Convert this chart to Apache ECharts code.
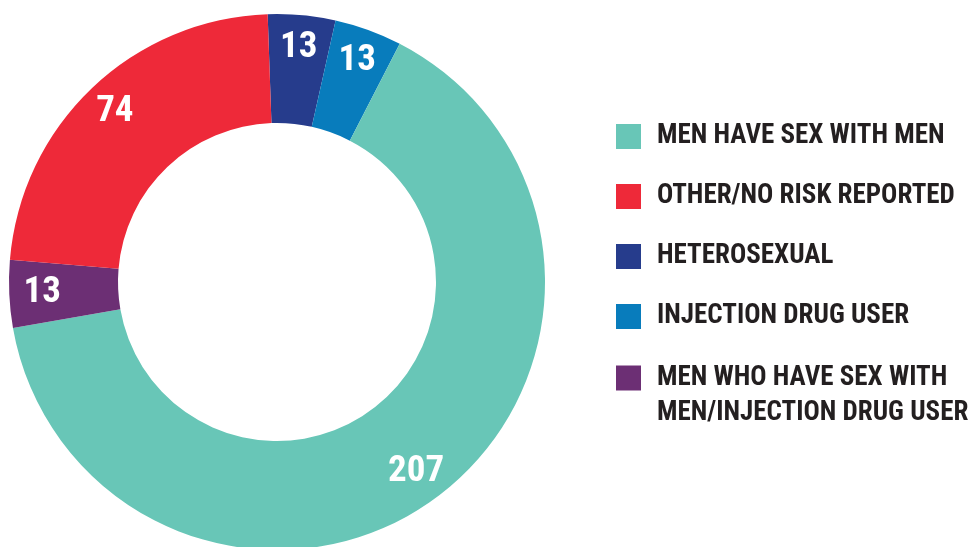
<!DOCTYPE html>
<html>
<head>
<meta charset="utf-8">
<script src="https://cdn.jsdelivr.net/npm/echarts@6/dist/echarts.min.js"></script>
<style>
  html, body { margin: 0; padding: 0; background: #ffffff; }
  #chart { width: 976px; height: 547px; }
</style>
</head>
<body>
<div id="chart"></div>
<script>
// slices in drawing order, clockwise from 12 o'clock
const groups = [
  "HETEROSEXUAL",
  "INJECTION DRUG USER",
  "MEN HAVE SEX WITH MEN",
  "MEN WHO HAVE SEX WITH\nMEN/INJECTION DRUG USER",
  "OTHER/NO RISK REPORTED"
];
const cases = [13, 13, 207, 13, 74];
const sliceColors = ["#263c8c", "#087cbc", "#68c6b7", "#6c2f74", "#ee2939"];

// legend order as shown on the right (the two-line entry gets its own block)
const legendOrder = [
  "MEN HAVE SEX WITH MEN",
  "OTHER/NO RISK REPORTED",
  "HETEROSEXUAL",
  "INJECTION DRUG USER"
];
const legendLast = ["MEN WHO HAVE SEX WITH\nMEN/INJECTION DRUG USER"];

const font = "'Roboto Condensed', 'Open Sans Condensed', sans-serif";
const center = [277, 282];

const slices = groups.map((name, i) => ({
  name,
  value: cases[i],
  itemStyle: { color: sliceColors[i] }
}));

const legendText = {
  color: "#231f20",
  fontFamily: font,
  fontWeight: "bold",
  fontSize: 27,
  lineHeight: 35,
  padding: [0, 0, 0, 11]
};

const legendBase = {
  orient: "vertical",
  left: 616,
  padding: 0,
  itemWidth: 25,
  itemHeight: 25,
  itemGap: 25,
  icon: "rect",
  selectedMode: false,
  textStyle: legendText
};

const chart = echarts.init(document.getElementById("chart"), null, { renderer: "canvas" });

chart.setOption({
  animation: false,
  legend: [
    { ...legendBase, top: 119, data: legendOrder },
    // leading blank line keeps the square level with the first text line
    { ...legendBase, top: 325.5, data: legendLast, formatter: name => "\n" + name }
  ],
  series: [
    {
      name: "cases",
      type: "pie",
      center,
      radius: [159, 268],
      startAngle: 92,
      clockwise: true,
      label: { show: false },
      labelLine: { show: false },
      emphasis: { disabled: true },
      data: slices
    },
    {
      // transparent ring that only carries the numbers near the outer edge
      name: "numbers",
      type: "pie",
      center,
      radius: [200, 264],
      startAngle: 92,
      clockwise: true,
      silent: true,
      legendHoverLink: false,
      itemStyle: { color: "rgba(0,0,0,0)" },
      label: {
        show: true,
        position: "inside",
        formatter: "{c}",
        color: "#ffffff",
        fontFamily: font,
        fontWeight: "bold",
        fontSize: 37
      },
      labelLine: { show: false },
      emphasis: { disabled: true },
      data: slices.map(s => ({ name: s.name + " ", value: s.value }))
    }
  ]
});
</script>
</body>
</html>
